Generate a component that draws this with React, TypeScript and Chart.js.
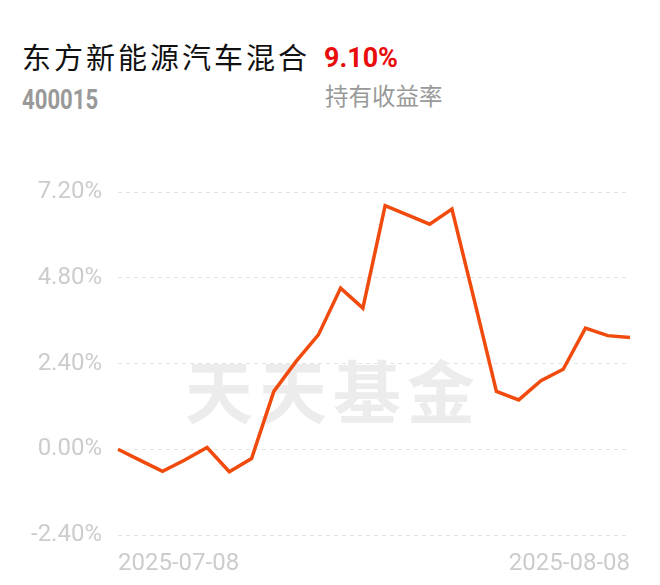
import React, { useEffect, useRef } from "react";
import { Chart, registerables } from "chart.js";

Chart.register(...registerables);

const fundName = "东方新能源汽车混合";
const fundCode = "400015";
const holdingReturn = "9.10%";
const holdingLabel = "持有收益率";
const watermark = "天天基金";

const dates = [
  "2025-07-08", "2025-07-09", "2025-07-10", "2025-07-11", "2025-07-14", "2025-07-15",
  "2025-07-16", "2025-07-17", "2025-07-18", "2025-07-21", "2025-07-22", "2025-07-23",
  "2025-07-24", "2025-07-25", "2025-07-28", "2025-07-29", "2025-07-30", "2025-07-31",
  "2025-08-01", "2025-08-04", "2025-08-05", "2025-08-06", "2025-08-07", "2025-08-08",
];
const returns = [
  0.0, -0.31, -0.62, -0.3, 0.05, -0.63, -0.26, 1.62, 2.46, 3.2, 4.51, 3.95,
  6.82, 6.56, 6.3, 6.72, 4.19, 1.62, 1.38, 1.92, 2.24, 3.39, 3.18, 3.13,
];
const yMin = -2.4;
const yMax = 7.2;
const yStep = 2.4;

const watermarkPlugin = {
  id: "watermark",
  beforeDatasetsDraw(chart: any) {
    const ctx = chart.ctx;
    ctx.save();
    ctx.font = "bold 68px 'Noto Sans CJK SC'";
    ctx.fillStyle = "#ececec";
    ctx.textAlign = "center";
    ctx.textBaseline = "middle";
    (ctx as any).letterSpacing = "6px";
    ctx.fillText(watermark, 333, 392);
    ctx.restore();
  },
};

export default function App() {
  const ref = useRef<HTMLCanvasElement>(null);
  useEffect(() => {
    if (!ref.current) return;
    const last = dates.length - 1;
    const chart = new Chart(ref.current, {
      type: "line",
      data: {
        labels: dates,
        datasets: [
          {
            data: returns,
            borderColor: "#F04B0C",
            borderWidth: 3.5,
            pointRadius: 0,
            tension: 0,
            fill: false,
          },
        ],
      },
      options: {
        animation: false,
        responsive: false,
        maintainAspectRatio: false,
        layout: { padding: { left: 0, right: 30, top: 192, bottom: 8 } },
        plugins: { legend: { display: false }, tooltip: { enabled: false } },
        scales: {
          x: {
            type: "category",
            offset: false,
            grid: { display: false },
            border: { display: false },
            afterFit(scale: any) {
              scale.height = 42;
            },
            ticks: {
              autoSkip: false,
              maxRotation: 0,
              minRotation: 0,
              align: "inner",
              padding: 7,
              color: "#cccccc",
              font: { family: "Roboto", size: 24 },
              callback: (_v: any, i: number) => (i === 0 || i === last ? dates[i] : ""),
            },
          },
          y: {
            min: yMin,
            max: yMax,
            afterFit(scale: any) {
              scale.width = 118;
            },
            grid: {
              color: "#e3e3e3",
              lineWidth: 1,
              drawTicks: false,
            },
            border: { display: false, dash: [4, 4] },
            ticks: {
              stepSize: yStep,
              padding: 16,
              color: "#cccccc",
              font: { family: "Roboto", size: 24 },
              callback: (v: any) => Number(v).toFixed(2) + "%",
            },
          },
        },
      },
      plugins: [watermarkPlugin],
    });
    return () => chart.destroy();
  }, []);

  return (
    <div style={{ position: "absolute", left: 0, top: 0, width: 660, height: 585, background: "#fff", overflow: "hidden" }}>
      <div
        style={{
          position: "absolute",
          left: 22,
          top: 40,
          fontFamily: "'Noto Sans CJK SC'",
          fontSize: 29,
          letterSpacing: 3,
          lineHeight: "32px",
          color: "#111",
          whiteSpace: "nowrap",
        }}
      >
        {fundName}
      </div>
      <div
        style={{
          position: "absolute",
          left: 324,
          top: 42,
          fontFamily: "Roboto",
          fontWeight: 700,
          fontSize: 28,
          lineHeight: "32px",
          color: "#e80c0c",
          whiteSpace: "nowrap",
          transform: "scaleX(0.96)",
          transformOrigin: "left top",
        }}
      >
        {holdingReturn}
      </div>
      <div
        style={{
          position: "absolute",
          left: 22,
          top: 84,
          fontFamily: "Roboto",
          fontWeight: 700,
          fontSize: 28,
          lineHeight: "32px",
          color: "#999999",
          whiteSpace: "nowrap",
          transform: "scaleX(0.79)",
          transformOrigin: "left top",
        }}
      >
        {fundCode}
      </div>
      <div
        style={{
          position: "absolute",
          left: 325,
          top: 80,
          fontFamily: "'Noto Sans CJK SC'",
          fontSize: 23.5,
          lineHeight: "30px",
          color: "#999999",
          whiteSpace: "nowrap",
        }}
      >
        {holdingLabel}
      </div>
      <canvas ref={ref} width={660} height={585} style={{ position: "absolute", left: 0, top: 0 }} />
    </div>
  );
}
